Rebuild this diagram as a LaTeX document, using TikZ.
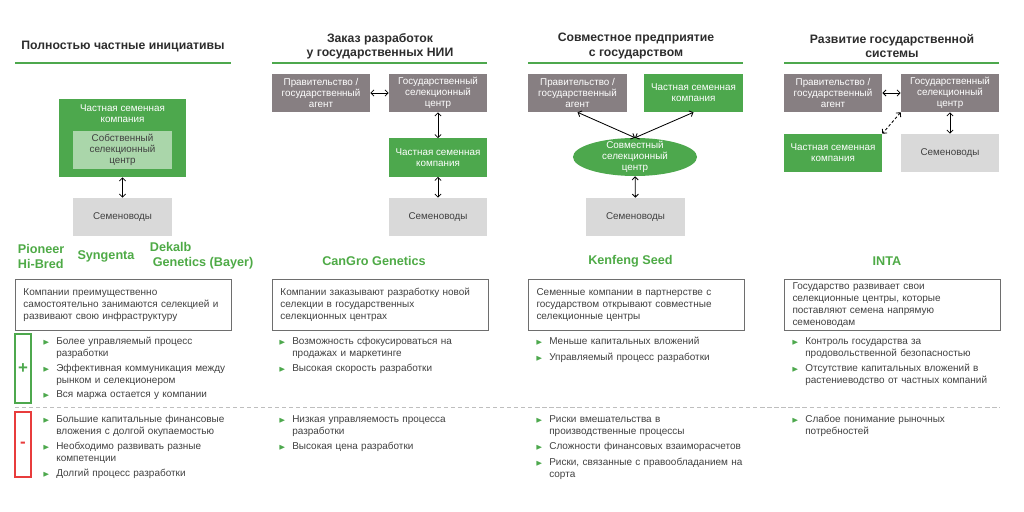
\documentclass[tikz,border=0pt]{standalone}
\usepackage{fontspec}
\setmainfont{Liberation Sans}
\usepackage{amsmath,amssymb}
\usepackage{tikz}
\usetikzlibrary{shapes.geometric, positioning, arrows.meta, calc}

\definecolor{seedgreen}{RGB}{77,168,77}
\definecolor{namegreen}{RGB}{78,170,70}
\definecolor{palegreen}{RGB}{170,214,170}
\definecolor{govgray}{RGB}{135,127,130}
\definecolor{growgray}{RGB}{217,217,217}
\definecolor{txtgray}{RGB}{64,64,64}
\definecolor{hdrgray}{RGB}{45,45,45}
\definecolor{boxgray}{RGB}{110,110,110}
\definecolor{sepgray}{RGB}{190,190,190}
\definecolor{minusred}{RGB}{232,60,60}

% bullet item: triangle, then the lines in a hanging block
\newcommand{\bitem}[1]{\par\noindent\makebox[0.35cm][l]{\textcolor{seedgreen}{\tiny$\blacktriangleright$}}\parbox[t]{\dimexpr\linewidth-0.35cm}{\raggedright #1}}

\begin{document}
\begin{tikzpicture}[
    x=0.025cm, y=-0.025cm,
    > = {Straight Barb[length=2.2pt, width=4.4pt]},
    every node/.style={text=txtgray},
    hdr/.style={font=\bfseries\fontsize{8.7}{10}\selectfont, align=center, text=hdrgray},
    rule/.style={draw=seedgreen, line width=1.4pt},
    basebox/.style={minimum width=2.45cm, minimum height=0.95cm, inner sep=1pt, align=center, font=\fontsize{7}{7.8}\selectfont},
    govbox/.style={basebox, fill=govgray, text=white},
    firmbox/.style={basebox, fill=seedgreen, text=white},
    growbox/.style={basebox, fill=growgray, text=txtgray},
    link/.style={<->, black, line width=0.6pt},
    firm/.style={font=\bfseries\fontsize{9}{10.7}\selectfont, text=namegreen},
    descbox/.style={draw=boxgray, line width=0.7pt, anchor=north west, text width=5cm, inner xsep=0.2cm, inner ysep=1pt, minimum height=1.275cm, align=left, font=\fontsize{7.1}{8.5}\selectfont},
    blist/.style={anchor=north west, inner sep=0pt, text width=5.6cm, align=left, font=\fontsize{7.1}{8.5}\selectfont, execute at begin node={\setlength{\parskip}{3pt}}}
]
\useasboundingbox (0,0) rectangle (1024,512);

% --- Fully private initiatives ---
\begin{scope}
    \node[hdr] (title1) at (123,47) {Полностью частные инициативы};
    \draw[rule] (15,63) -- (231,63);

    \node[firmbox, minimum width=3.175cm, minimum height=1.95cm] (firm1) at (122.5,138) {};
    \node[anchor=north, align=center, text=white, font=\fontsize{7}{7.8}\selectfont] (firmtxt1) at ([yshift=-1pt]firm1.north) {Частная семенная\\компания};
    \node[basebox, minimum width=2.475cm, fill=palegreen, text=txtgray] (own1) at (122.5,150) {Собственный\\селекционный\\центр};
    \node[growbox, minimum width=2.475cm] (growers1) at (122.5,217) {Семеноводы};
    \draw[link] (firm1) -- (growers1);

    \node[firm, anchor=west, align=left] (pioneer) at (13,256) {Pioneer\\Hi-Bred};
    \node[firm] (syngenta) at (106,256) {Syngenta};
    \node[firm, anchor=west, align=left] (dekalb) at (145,256) {Dekalb\\\hspace*{2pt}Genetics (Bayer)};

    \node[descbox] (desc1) at (15,279) {Компании преимущественно\\самостоятельно занимаются селекцией и\\развивают свою инфраструктуру};

    % plus / minus markers
    \node[draw=seedgreen, line width=0.8pt, minimum width=0.4cm, minimum height=1.725cm, inner sep=0pt, font=\bfseries\fontsize{12}{12}\selectfont, text=seedgreen] (plus) at (23,368.5) {+};
    \node[draw=minusred, line width=0.8pt, minimum width=0.4cm, minimum height=1.625cm, inner sep=0pt, font=\bfseries\fontsize{12}{12}\selectfont, text=minusred] (minus) at (23,444.5) {-};

    \node[blist] (pros1) at (42,328) {\bitem{Более управляемый процесс\\разработки} \bitem{Эффективная коммуникация между\\рынком и селекционером} \bitem{Вся маржа остается у компании}};
    \node[blist] (cons1) at (42,406) {\bitem{Большие капитальные финансовые\\вложения с долгой окупаемостью} \bitem{Необходимо развивать разные\\компетенции} \bitem{Долгий процесс разработки}};
\end{scope}

% --- Contract research at state institutes ---
\begin{scope}[shift={(257,0)}]
    \node[hdr] (title2) at (123,46) {Заказ разработок\\у государственных НИИ};
    \draw[rule] (15,63) -- (230,63);

    \node[govbox] (agent2) at (64,93) {Правительство /\\государственный\\агент};
    \node[govbox] (center2) at (181,93) {Государственный\\селекционный\\центр};
    \node[firmbox] (firm2) at (181,157.5) {Частная семенная\\компания};
    \node[growbox] (growers2) at (181,217) {Семеноводы};
    \draw[link] (agent2) -- (center2);
    \draw[link] (center2) -- (firm2);
    \draw[link] (firm2) -- (growers2);

    \node[firm] (cangro) at (117,261) {CanGro Genetics};
    \node[descbox] (desc2) at (15,279) {Компании заказывают разработку новой\\селекции в государственных\\селекционных центрах};

    \node[blist] (pros2) at (21,328) {\bitem{Возможность сфокусироваться на\\продажах и маркетинге} \bitem{Высокая скорость разработки}};
    \node[blist] (cons2) at (21,406) {\bitem{Низкая управляемость процесса\\разработки} \bitem{Высокая цена разработки}};
\end{scope}

% --- Joint venture with the state ---
\begin{scope}[shift={(513,0)}]
    \node[hdr] (title3) at (123,46) {Совместное предприятие\\с государством};
    \draw[rule] (15,63) -- (230,63);

    \node[govbox, minimum width=2.475cm] (agent3) at (64.5,93) {Правительство /\\государственный\\агент};
    \node[firmbox, minimum width=2.475cm] (firm3) at (180.5,93) {Частная семенная\\компания};
    \node[ellipse, fill=seedgreen, minimum width=3.1cm, minimum height=0.95cm, inner sep=0pt] (joint3) at (122,157) {};
    \node[align=center, text=white, inner sep=0pt, font=\fontsize{7}{7.6}\selectfont] (jointtxt3) at (joint3) {Совместный\\селекционный\\центр};
    \node[growbox, minimum width=2.475cm] (growers3) at (122.5,217) {Семеноводы};
    \draw[link] (agent3.south) -- (joint3.north);
    \draw[link] (firm3.south) -- (joint3.north);
    \draw[link] (joint3) -- (growers3);

    \node[firm] (kenfeng) at (117.5,261) {Kenfeng Seed};
    \node[descbox] (desc3) at (15,279) {Семенные компании в партнерстве с\\государством открывают совместные\\селекционные центры};

    \node[blist] (pros3) at (22,328) {\bitem{Меньше капитальных вложений} \bitem{Управляемый процесс разработки}};
    \node[blist] (cons3) at (22,406) {\bitem{Риски вмешательства в\\производственные процессы} \bitem{Сложности финансовых взаиморасчетов} \bitem{Риски, связанные с правообладанием на\\сорта}};
\end{scope}

% --- State system development ---
\begin{scope}[shift={(769,0)}]
    \node[hdr] (title4) at (123,46) {Развитие государственной\\системы};
    \draw[rule] (15,63) -- (230,63);

    \node[govbox] (agent4) at (64,93) {Правительство /\\государственный\\агент};
    \node[govbox] (center4) at (181,93) {Государственный\\селекционный\\центр};
    \node[firmbox] (firm4) at (64,153) {Частная семенная\\компания};
    \node[growbox] (growers4) at (181,153) {Семеноводы};
    \draw[link] (agent4) -- (center4);
    \draw[link] (center4) -- (growers4);
    % private link is optional
    \draw[link, dashed, dash pattern=on 2pt off 1.5pt] (center4.south west) -- (firm4.north east);

    \node[firm] (inta) at (118,261) {INTA};
    \node[descbox] (desc4) at (15,279) {Государство развивает свои\\селекционные центры, которые\\поставляют семена напрямую\\семеноводам};

    \node[blist] (pros4) at (22,328) {\bitem{Контроль государства за\\продовольственной безопасностью} \bitem{Отсутствие капитальных вложений в\\растениеводство от частных компаний}};
    \node[blist] (cons4) at (22,406) {\bitem{Слабое понимание рыночных\\потребностей}};
\end{scope}

% pros / cons separator
\draw[sepgray, dashed, dash pattern=on 3pt off 2pt, line width=0.7pt] (15,407) -- (1000,407);

\end{tikzpicture}
\end{document}
